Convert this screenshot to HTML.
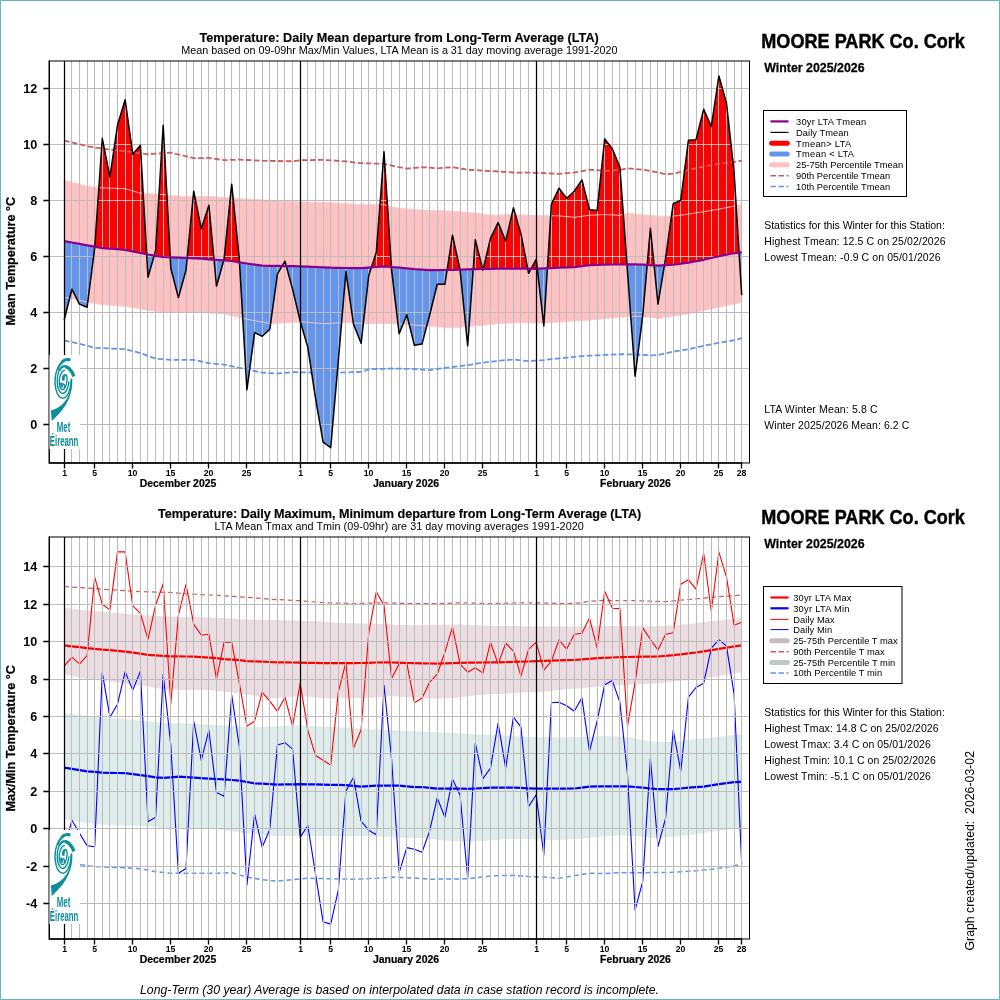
<!DOCTYPE html>
<html lang="en"><head><meta charset="utf-8"><title>MOORE PARK Co. Cork - Winter 2025/2026 Temperature</title>
<style>html,body{margin:0;padding:0;background:#fff}body{width:1000px;height:1000px;overflow:hidden}svg{display:block}text{font-family:"Liberation Sans",Arial,Helvetica,sans-serif;fill:#000}</style>
</head><body>
<svg width="1000" height="1000" viewBox="0 0 1000 1000">
<rect x="0" y="0" width="1000" height="1000" fill="#fff"/>
<defs>
<clipPath id="cA"><polygon points="64.2,0 64.2,241.1 71.9,242.5 79.5,243.9 87.1,245.3 94.7,246.7 102.3,248.1 109.9,248.6 117.5,249.2 125.1,249.8 132.8,251.3 140.4,252.9 148.0,254.5 155.6,255.8 163.2,257.0 170.8,257.4 178.4,257.7 186.0,258.0 193.7,258.4 201.3,258.7 208.9,259.3 216.5,259.8 224.1,260.4 231.7,261.0 239.3,262.4 246.9,263.5 254.6,264.6 262.2,265.7 269.8,265.8 277.4,265.9 285.0,266.1 292.6,266.2 300.2,266.3 307.8,266.6 315.4,267.0 323.1,267.3 330.7,267.7 338.3,267.8 345.9,268.0 353.5,268.1 361.1,268.2 368.7,267.6 376.3,266.9 384.0,266.3 391.6,267.0 399.2,267.7 406.8,268.4 414.4,269.1 422.0,269.6 429.6,270.2 437.2,270.1 444.9,270.0 452.5,269.9 460.1,269.6 467.7,269.4 475.3,269.1 482.9,268.9 490.5,268.8 498.1,268.7 505.7,268.5 513.4,268.6 521.0,268.7 528.6,268.7 536.2,268.8 543.8,268.4 551.4,268.1 559.0,267.7 566.6,267.4 574.3,267.1 581.9,266.1 589.5,265.2 597.1,264.9 604.7,264.6 612.3,264.5 619.9,264.3 627.5,264.3 635.1,264.3 642.8,264.7 650.4,265.2 658.0,265.7 665.6,265.2 673.2,264.6 680.8,263.6 688.4,262.6 696.0,261.2 703.7,259.8 711.3,258.0 718.9,256.2 726.5,254.7 734.1,253.1 741.7,252.3 741.7,0"/></clipPath>
<clipPath id="cB"><polygon points="64.2,500 64.2,241.1 71.9,242.5 79.5,243.9 87.1,245.3 94.7,246.7 102.3,248.1 109.9,248.6 117.5,249.2 125.1,249.8 132.8,251.3 140.4,252.9 148.0,254.5 155.6,255.8 163.2,257.0 170.8,257.4 178.4,257.7 186.0,258.0 193.7,258.4 201.3,258.7 208.9,259.3 216.5,259.8 224.1,260.4 231.7,261.0 239.3,262.4 246.9,263.5 254.6,264.6 262.2,265.7 269.8,265.8 277.4,265.9 285.0,266.1 292.6,266.2 300.2,266.3 307.8,266.6 315.4,267.0 323.1,267.3 330.7,267.7 338.3,267.8 345.9,268.0 353.5,268.1 361.1,268.2 368.7,267.6 376.3,266.9 384.0,266.3 391.6,267.0 399.2,267.7 406.8,268.4 414.4,269.1 422.0,269.6 429.6,270.2 437.2,270.1 444.9,270.0 452.5,269.9 460.1,269.6 467.7,269.4 475.3,269.1 482.9,268.9 490.5,268.8 498.1,268.7 505.7,268.5 513.4,268.6 521.0,268.7 528.6,268.7 536.2,268.8 543.8,268.4 551.4,268.1 559.0,267.7 566.6,267.4 574.3,267.1 581.9,266.1 589.5,265.2 597.1,264.9 604.7,264.6 612.3,264.5 619.9,264.3 627.5,264.3 635.1,264.3 642.8,264.7 650.4,265.2 658.0,265.7 665.6,265.2 673.2,264.6 680.8,263.6 688.4,262.6 696.0,261.2 703.7,259.8 711.3,258.0 718.9,256.2 726.5,254.7 734.1,253.1 741.7,252.3 741.7,500"/></clipPath>
</defs>
<polygon points="64.2,180.3 71.9,182.3 79.5,184.2 87.1,186.2 94.7,187.0 102.3,187.9 109.9,188.2 117.5,188.4 125.1,188.7 132.8,191.0 140.4,193.2 148.0,193.7 155.6,194.1 163.2,194.6 170.8,195.3 178.4,196.1 186.0,196.8 193.7,196.7 201.3,196.5 208.9,196.3 216.5,196.9 224.1,197.6 231.7,198.2 239.3,198.7 246.9,199.1 254.6,199.5 262.2,199.9 269.8,200.3 277.4,200.7 285.0,201.1 292.6,201.5 300.2,201.9 307.8,202.1 315.4,202.3 323.1,202.5 330.7,202.7 338.3,203.2 345.9,203.7 353.5,204.2 361.1,204.7 368.7,204.7 376.3,204.7 384.0,204.7 391.6,206.5 399.2,208.3 406.8,209.0 414.4,209.7 422.0,210.1 429.6,210.6 437.2,210.7 444.9,210.9 452.5,211.1 460.1,211.8 467.7,212.4 475.3,213.1 482.9,214.2 490.5,215.3 498.1,215.0 505.7,214.8 513.4,214.5 521.0,214.9 528.6,215.2 536.2,215.6 543.8,215.7 551.4,215.8 559.0,215.9 566.6,216.6 574.3,217.3 581.9,216.3 589.5,215.3 597.1,214.9 604.7,214.5 612.3,214.9 619.9,215.3 627.5,213.1 635.1,213.9 642.8,214.8 650.4,215.5 658.0,216.2 665.6,216.2 673.2,216.2 680.8,215.2 688.4,214.2 696.0,212.9 703.7,211.7 711.3,210.4 718.9,209.2 726.5,207.6 734.1,206.1 741.7,204.7 741.7,302.1 734.1,304.1 726.5,305.6 718.9,307.2 711.3,308.8 703.7,310.5 696.0,312.2 688.4,313.9 680.8,315.0 673.2,316.1 665.6,317.4 658.0,318.6 650.4,317.2 642.8,316.7 635.1,316.1 627.5,316.7 619.9,317.2 612.3,317.9 604.7,318.6 597.1,319.3 589.5,320.0 581.9,320.5 574.3,321.0 566.6,321.4 559.0,322.0 551.4,322.6 543.8,323.1 536.2,322.9 528.6,322.7 521.0,322.6 513.4,322.9 505.7,323.3 498.1,323.7 490.5,324.4 482.9,325.2 475.3,325.9 467.7,326.6 460.1,327.2 452.5,327.9 444.9,327.3 437.2,326.8 429.6,326.2 422.0,325.6 414.4,325.1 406.8,324.5 399.2,324.0 391.6,323.4 384.0,323.5 376.3,323.6 368.7,323.7 361.1,323.3 353.5,322.9 345.9,322.6 338.3,322.9 330.7,323.3 323.1,323.7 315.4,323.0 307.8,322.4 300.2,321.7 292.6,322.2 285.0,322.7 277.4,323.2 269.8,323.7 262.2,322.2 254.6,320.7 246.9,319.2 239.3,317.4 231.7,315.7 224.1,313.9 216.5,313.4 208.9,312.9 201.3,312.5 193.7,312.5 186.0,312.5 178.4,312.5 170.8,312.5 163.2,312.5 155.6,311.4 148.0,310.2 140.4,308.9 132.8,307.6 125.1,306.3 117.5,305.8 109.9,305.2 102.3,304.6 94.7,303.4 87.1,302.1 79.5,300.4 71.9,298.8 64.2,297.1" fill="#ffc1c1"/>
<polygon points="64.2,319.8 71.9,289.2 79.5,304.1 87.1,307.2 94.7,247.8 102.3,138.3 109.9,177.2 117.5,125.2 125.1,99.7 132.8,154.3 140.4,145.3 148.0,277.2 155.6,250.6 163.2,125.2 170.8,268.2 178.4,297.6 186.0,270.2 193.7,191.2 201.3,228.8 208.9,205.2 216.5,286.2 224.1,259.0 231.7,184.2 239.3,259.0 246.9,389.8 254.6,332.6 262.2,336.3 269.8,329.3 277.4,274.1 285.0,261.2 292.6,289.2 300.2,321.2 307.8,347.2 315.4,397.6 323.1,442.1 330.7,447.7 338.3,361.2 345.9,271.6 353.5,324.2 361.1,343.3 368.7,275.8 376.3,252.3 384.0,151.8 391.6,270.2 399.2,333.8 406.8,314.7 414.4,345.2 422.0,344.1 429.6,315.3 437.2,284.2 444.9,284.2 452.5,235.2 460.1,270.2 467.7,345.8 475.3,239.7 482.9,270.2 490.5,238.3 498.1,222.6 505.7,241.1 513.4,207.8 521.0,234.1 528.6,273.3 536.2,259.3 543.8,325.9 551.4,204.1 559.0,188.2 566.6,198.2 574.3,191.2 581.9,179.8 589.5,209.7 597.1,210.6 604.7,138.9 612.3,148.7 619.9,167.2 627.5,271.6 635.1,376.3 642.8,315.0 650.4,228.2 658.0,304.1 665.6,258.2 673.2,203.6 680.8,200.2 688.4,140.3 696.0,139.7 703.7,109.2 711.3,126.6 718.9,75.9 726.5,103.3 734.1,172.2 741.7,295.1 741.7,252.3 734.1,253.1 726.5,254.7 718.9,256.2 711.3,258.0 703.7,259.8 696.0,261.2 688.4,262.6 680.8,263.6 673.2,264.6 665.6,265.2 658.0,265.7 650.4,265.2 642.8,264.7 635.1,264.3 627.5,264.3 619.9,264.3 612.3,264.5 604.7,264.6 597.1,264.9 589.5,265.2 581.9,266.1 574.3,267.1 566.6,267.4 559.0,267.7 551.4,268.1 543.8,268.4 536.2,268.8 528.6,268.7 521.0,268.7 513.4,268.6 505.7,268.5 498.1,268.7 490.5,268.8 482.9,268.9 475.3,269.1 467.7,269.4 460.1,269.6 452.5,269.9 444.9,270.0 437.2,270.1 429.6,270.2 422.0,269.6 414.4,269.1 406.8,268.4 399.2,267.7 391.6,267.0 384.0,266.3 376.3,266.9 368.7,267.6 361.1,268.2 353.5,268.1 345.9,268.0 338.3,267.8 330.7,267.7 323.1,267.3 315.4,267.0 307.8,266.6 300.2,266.3 292.6,266.2 285.0,266.1 277.4,265.9 269.8,265.8 262.2,265.7 254.6,264.6 246.9,263.5 239.3,262.4 231.7,261.0 224.1,260.4 216.5,259.8 208.9,259.3 201.3,258.7 193.7,258.4 186.0,258.0 178.4,257.7 170.8,257.4 163.2,257.0 155.6,255.8 148.0,254.5 140.4,252.9 132.8,251.3 125.1,249.8 117.5,249.2 109.9,248.6 102.3,248.1 94.7,246.7 87.1,245.3 79.5,243.9 71.9,242.5 64.2,241.1" fill="#ff0000" clip-path="url(#cA)"/>
<polygon points="64.2,319.8 71.9,289.2 79.5,304.1 87.1,307.2 94.7,247.8 102.3,138.3 109.9,177.2 117.5,125.2 125.1,99.7 132.8,154.3 140.4,145.3 148.0,277.2 155.6,250.6 163.2,125.2 170.8,268.2 178.4,297.6 186.0,270.2 193.7,191.2 201.3,228.8 208.9,205.2 216.5,286.2 224.1,259.0 231.7,184.2 239.3,259.0 246.9,389.8 254.6,332.6 262.2,336.3 269.8,329.3 277.4,274.1 285.0,261.2 292.6,289.2 300.2,321.2 307.8,347.2 315.4,397.6 323.1,442.1 330.7,447.7 338.3,361.2 345.9,271.6 353.5,324.2 361.1,343.3 368.7,275.8 376.3,252.3 384.0,151.8 391.6,270.2 399.2,333.8 406.8,314.7 414.4,345.2 422.0,344.1 429.6,315.3 437.2,284.2 444.9,284.2 452.5,235.2 460.1,270.2 467.7,345.8 475.3,239.7 482.9,270.2 490.5,238.3 498.1,222.6 505.7,241.1 513.4,207.8 521.0,234.1 528.6,273.3 536.2,259.3 543.8,325.9 551.4,204.1 559.0,188.2 566.6,198.2 574.3,191.2 581.9,179.8 589.5,209.7 597.1,210.6 604.7,138.9 612.3,148.7 619.9,167.2 627.5,271.6 635.1,376.3 642.8,315.0 650.4,228.2 658.0,304.1 665.6,258.2 673.2,203.6 680.8,200.2 688.4,140.3 696.0,139.7 703.7,109.2 711.3,126.6 718.9,75.9 726.5,103.3 734.1,172.2 741.7,295.1 741.7,252.3 734.1,253.1 726.5,254.7 718.9,256.2 711.3,258.0 703.7,259.8 696.0,261.2 688.4,262.6 680.8,263.6 673.2,264.6 665.6,265.2 658.0,265.7 650.4,265.2 642.8,264.7 635.1,264.3 627.5,264.3 619.9,264.3 612.3,264.5 604.7,264.6 597.1,264.9 589.5,265.2 581.9,266.1 574.3,267.1 566.6,267.4 559.0,267.7 551.4,268.1 543.8,268.4 536.2,268.8 528.6,268.7 521.0,268.7 513.4,268.6 505.7,268.5 498.1,268.7 490.5,268.8 482.9,268.9 475.3,269.1 467.7,269.4 460.1,269.6 452.5,269.9 444.9,270.0 437.2,270.1 429.6,270.2 422.0,269.6 414.4,269.1 406.8,268.4 399.2,267.7 391.6,267.0 384.0,266.3 376.3,266.9 368.7,267.6 361.1,268.2 353.5,268.1 345.9,268.0 338.3,267.8 330.7,267.7 323.1,267.3 315.4,267.0 307.8,266.6 300.2,266.3 292.6,266.2 285.0,266.1 277.4,265.9 269.8,265.8 262.2,265.7 254.6,264.6 246.9,263.5 239.3,262.4 231.7,261.0 224.1,260.4 216.5,259.8 208.9,259.3 201.3,258.7 193.7,258.4 186.0,258.0 178.4,257.7 170.8,257.4 163.2,257.0 155.6,255.8 148.0,254.5 140.4,252.9 132.8,251.3 125.1,249.8 117.5,249.2 109.9,248.6 102.3,248.1 94.7,246.7 87.1,245.3 79.5,243.9 71.9,242.5 64.2,241.1" fill="#6495ed" clip-path="url(#cB)"/>
<polygon points="64.2,180.3 71.9,182.3 79.5,184.2 87.1,186.2 94.7,187.0 102.3,187.9 109.9,188.2 117.5,188.4 125.1,188.7 132.8,191.0 140.4,193.2 148.0,193.7 155.6,194.1 163.2,194.6 170.8,195.3 178.4,196.1 186.0,196.8 193.7,196.7 201.3,196.5 208.9,196.3 216.5,196.9 224.1,197.6 231.7,198.2 239.3,198.7 246.9,199.1 254.6,199.5 262.2,199.9 269.8,200.3 277.4,200.7 285.0,201.1 292.6,201.5 300.2,201.9 307.8,202.1 315.4,202.3 323.1,202.5 330.7,202.7 338.3,203.2 345.9,203.7 353.5,204.2 361.1,204.7 368.7,204.7 376.3,204.7 384.0,204.7 391.6,206.5 399.2,208.3 406.8,209.0 414.4,209.7 422.0,210.1 429.6,210.6 437.2,210.7 444.9,210.9 452.5,211.1 460.1,211.8 467.7,212.4 475.3,213.1 482.9,214.2 490.5,215.3 498.1,215.0 505.7,214.8 513.4,214.5 521.0,214.9 528.6,215.2 536.2,215.6 543.8,215.7 551.4,215.8 559.0,215.9 566.6,216.6 574.3,217.3 581.9,216.3 589.5,215.3 597.1,214.9 604.7,214.5 612.3,214.9 619.9,215.3 627.5,213.1 635.1,213.9 642.8,214.8 650.4,215.5 658.0,216.2 665.6,216.2 673.2,216.2 680.8,215.2 688.4,214.2 696.0,212.9 703.7,211.7 711.3,210.4 718.9,209.2 726.5,207.6 734.1,206.1 741.7,204.7 741.7,302.1 734.1,304.1 726.5,305.6 718.9,307.2 711.3,308.8 703.7,310.5 696.0,312.2 688.4,313.9 680.8,315.0 673.2,316.1 665.6,317.4 658.0,318.6 650.4,317.2 642.8,316.7 635.1,316.1 627.5,316.7 619.9,317.2 612.3,317.9 604.7,318.6 597.1,319.3 589.5,320.0 581.9,320.5 574.3,321.0 566.6,321.4 559.0,322.0 551.4,322.6 543.8,323.1 536.2,322.9 528.6,322.7 521.0,322.6 513.4,322.9 505.7,323.3 498.1,323.7 490.5,324.4 482.9,325.2 475.3,325.9 467.7,326.6 460.1,327.2 452.5,327.9 444.9,327.3 437.2,326.8 429.6,326.2 422.0,325.6 414.4,325.1 406.8,324.5 399.2,324.0 391.6,323.4 384.0,323.5 376.3,323.6 368.7,323.7 361.1,323.3 353.5,322.9 345.9,322.6 338.3,322.9 330.7,323.3 323.1,323.7 315.4,323.0 307.8,322.4 300.2,321.7 292.6,322.2 285.0,322.7 277.4,323.2 269.8,323.7 262.2,322.2 254.6,320.7 246.9,319.2 239.3,317.4 231.7,315.7 224.1,313.9 216.5,313.4 208.9,312.9 201.3,312.5 193.7,312.5 186.0,312.5 178.4,312.5 170.8,312.5 163.2,312.5 155.6,311.4 148.0,310.2 140.4,308.9 132.8,307.6 125.1,306.3 117.5,305.8 109.9,305.2 102.3,304.6 94.7,303.4 87.1,302.1 79.5,300.4 71.9,298.8 64.2,297.1" fill="none" stroke="#ffcaca" stroke-width="0.9"/>
<path d="M71.5 61.0V463.0M79.5 61.0V463.0M87.5 61.0V463.0M94.5 61.0V463.0M102.5 61.0V463.0M109.5 61.0V463.0M117.5 61.0V463.0M125.5 61.0V463.0M132.5 61.0V463.0M140.5 61.0V463.0M147.5 61.0V463.0M155.5 61.0V463.0M163.5 61.0V463.0M170.5 61.0V463.0M178.5 61.0V463.0M186.5 61.0V463.0M193.5 61.0V463.0M201.5 61.0V463.0M208.5 61.0V463.0M216.5 61.0V463.0M224.5 61.0V463.0M231.5 61.0V463.0M239.5 61.0V463.0M246.5 61.0V463.0M254.5 61.0V463.0M262.5 61.0V463.0M269.5 61.0V463.0M277.5 61.0V463.0M284.5 61.0V463.0M292.5 61.0V463.0M307.5 61.0V463.0M315.5 61.0V463.0M323.5 61.0V463.0M330.5 61.0V463.0M338.5 61.0V463.0M345.5 61.0V463.0M353.5 61.0V463.0M361.5 61.0V463.0M368.5 61.0V463.0M376.5 61.0V463.0M383.5 61.0V463.0M391.5 61.0V463.0M399.5 61.0V463.0M406.5 61.0V463.0M414.5 61.0V463.0M422.5 61.0V463.0M429.5 61.0V463.0M437.5 61.0V463.0M444.5 61.0V463.0M452.5 61.0V463.0M460.5 61.0V463.0M467.5 61.0V463.0M475.5 61.0V463.0M482.5 61.0V463.0M490.5 61.0V463.0M498.5 61.0V463.0M505.5 61.0V463.0M513.5 61.0V463.0M520.5 61.0V463.0M528.5 61.0V463.0M543.5 61.0V463.0M551.5 61.0V463.0M559.5 61.0V463.0M566.5 61.0V463.0M574.5 61.0V463.0M581.5 61.0V463.0M589.5 61.0V463.0M597.5 61.0V463.0M604.5 61.0V463.0M612.5 61.0V463.0M619.5 61.0V463.0M627.5 61.0V463.0M635.5 61.0V463.0M642.5 61.0V463.0M650.5 61.0V463.0M657.5 61.0V463.0M665.5 61.0V463.0M673.5 61.0V463.0M680.5 61.0V463.0M688.5 61.0V463.0M696.5 61.0V463.0M703.5 61.0V463.0M711.5 61.0V463.0M718.5 61.0V463.0M726.5 61.0V463.0M734.5 61.0V463.0M741.5 61.0V463.0M49.3 424.5H749.5M49.3 368.5H749.5M49.3 312.5H749.5M49.3 256.5H749.5M49.3 200.5H749.5M49.3 144.5H749.5M49.3 88.5H749.5" stroke="#bcbcbc" stroke-width="1" fill="none" shape-rendering="crispEdges"/>
<polyline points="64.2,140.6 71.9,142.4 79.5,144.3 87.1,146.2 94.7,147.4 102.3,148.7 109.9,149.5 117.5,150.4 125.1,151.2 132.8,152.2 140.4,153.3 148.0,154.3 155.6,153.7 163.2,153.2 170.8,152.6 178.4,154.5 186.0,156.3 193.7,158.2 201.3,158.1 208.9,157.9 216.5,159.0 224.1,160.2 231.7,159.9 239.3,159.6 246.9,160.0 254.6,160.3 262.2,160.7 269.8,160.9 277.4,161.0 285.0,161.1 292.6,161.3 300.2,160.2 307.8,160.1 315.4,160.0 323.1,159.9 330.7,160.3 338.3,160.8 345.9,161.3 353.5,162.3 361.1,163.2 368.7,163.4 376.3,163.6 384.0,163.8 391.6,165.5 399.2,167.2 406.8,168.6 414.4,167.9 422.0,167.2 429.6,167.7 437.2,168.3 444.9,167.7 452.5,167.2 460.1,168.4 467.7,169.7 475.3,170.1 482.9,170.6 490.5,171.1 498.1,171.5 505.7,172.0 513.4,172.5 521.0,172.6 528.6,172.7 536.2,172.8 543.8,173.1 551.4,173.5 559.0,173.9 566.6,173.2 574.3,172.5 581.9,171.1 589.5,169.7 597.1,170.2 604.7,170.8 612.3,170.4 619.9,170.0 627.5,168.3 635.1,169.0 642.8,169.7 650.4,171.1 658.0,172.5 665.6,174.2 673.2,173.6 680.8,171.9 688.4,170.2 696.0,168.3 703.7,166.3 711.3,165.1 718.9,163.8 726.5,162.8 734.1,161.8 741.7,160.7" fill="none" stroke="#cd5c5c" stroke-width="1.8" stroke-dasharray="5.5 2.5"/>
<polyline points="64.2,340.5 71.9,342.2 79.5,343.8 87.1,345.8 94.7,347.8 102.3,348.1 109.9,348.5 117.5,348.8 125.1,349.2 132.8,351.1 140.4,353.1 148.0,355.9 155.6,358.7 163.2,359.2 170.8,359.8 178.4,359.8 186.0,359.8 193.7,359.8 201.3,361.5 208.9,363.2 216.5,363.9 224.1,364.6 231.7,366.2 239.3,367.9 246.9,369.3 254.6,371.0 262.2,372.7 269.8,373.1 277.4,373.5 285.0,372.8 292.6,372.1 300.2,372.3 307.8,372.5 315.4,372.7 323.1,372.7 330.7,372.7 338.3,372.7 345.9,372.4 353.5,372.1 361.1,371.8 368.7,369.3 376.3,369.0 384.0,368.8 391.6,368.5 399.2,368.7 406.8,368.9 414.4,369.0 422.0,369.6 429.6,370.2 437.2,369.0 444.9,367.9 452.5,367.0 460.1,366.1 467.7,365.1 475.3,363.9 482.9,362.6 490.5,361.8 498.1,360.9 505.7,360.1 513.4,359.5 521.0,360.4 528.6,361.2 536.2,360.6 543.8,360.1 551.4,359.2 559.0,358.4 566.6,357.6 574.3,356.9 581.9,356.2 589.5,355.7 597.1,355.3 604.7,354.9 612.3,354.6 619.9,354.2 627.5,354.3 635.1,354.5 642.8,354.9 650.4,355.3 658.0,355.0 665.6,353.4 673.2,351.7 680.8,350.4 688.4,349.2 696.0,347.5 703.7,345.8 711.3,344.3 718.9,342.7 726.5,341.5 734.1,340.2 741.7,338.2" fill="none" stroke="#6495ed" stroke-width="1.8" stroke-dasharray="5.5 2.5"/>
<polyline points="64.2,319.8 71.9,289.2 79.5,304.1 87.1,307.2 94.7,247.8 102.3,138.3 109.9,177.2 117.5,125.2 125.1,99.7 132.8,154.3 140.4,145.3 148.0,277.2 155.6,250.6 163.2,125.2 170.8,268.2 178.4,297.6 186.0,270.2 193.7,191.2 201.3,228.8 208.9,205.2 216.5,286.2 224.1,259.0 231.7,184.2 239.3,259.0 246.9,389.8 254.6,332.6 262.2,336.3 269.8,329.3 277.4,274.1 285.0,261.2 292.6,289.2 300.2,321.2 307.8,347.2 315.4,397.6 323.1,442.1 330.7,447.7 338.3,361.2 345.9,271.6 353.5,324.2 361.1,343.3 368.7,275.8 376.3,252.3 384.0,151.8 391.6,270.2 399.2,333.8 406.8,314.7 414.4,345.2 422.0,344.1 429.6,315.3 437.2,284.2 444.9,284.2 452.5,235.2 460.1,270.2 467.7,345.8 475.3,239.7 482.9,270.2 490.5,238.3 498.1,222.6 505.7,241.1 513.4,207.8 521.0,234.1 528.6,273.3 536.2,259.3 543.8,325.9 551.4,204.1 559.0,188.2 566.6,198.2 574.3,191.2 581.9,179.8 589.5,209.7 597.1,210.6 604.7,138.9 612.3,148.7 619.9,167.2 627.5,271.6 635.1,376.3 642.8,315.0 650.4,228.2 658.0,304.1 665.6,258.2 673.2,203.6 680.8,200.2 688.4,140.3 696.0,139.7 703.7,109.2 711.3,126.6 718.9,75.9 726.5,103.3 734.1,172.2 741.7,295.1" fill="none" stroke="#000" stroke-width="1.5" stroke-linejoin="round"/>
<polyline points="64.2,241.1 71.9,242.5 79.5,243.9 87.1,245.3 94.7,246.7 102.3,248.1 109.9,248.6 117.5,249.2 125.1,249.8 132.8,251.3 140.4,252.9 148.0,254.5 155.6,255.8 163.2,257.0 170.8,257.4 178.4,257.7 186.0,258.0 193.7,258.4 201.3,258.7 208.9,259.3 216.5,259.8 224.1,260.4 231.7,261.0 239.3,262.4 246.9,263.5 254.6,264.6 262.2,265.7 269.8,265.8 277.4,265.9 285.0,266.1 292.6,266.2 300.2,266.3 307.8,266.6 315.4,267.0 323.1,267.3 330.7,267.7 338.3,267.8 345.9,268.0 353.5,268.1 361.1,268.2 368.7,267.6 376.3,266.9 384.0,266.3 391.6,267.0 399.2,267.7 406.8,268.4 414.4,269.1 422.0,269.6 429.6,270.2 437.2,270.1 444.9,270.0 452.5,269.9 460.1,269.6 467.7,269.4 475.3,269.1 482.9,268.9 490.5,268.8 498.1,268.7 505.7,268.5 513.4,268.6 521.0,268.7 528.6,268.7 536.2,268.8 543.8,268.4 551.4,268.1 559.0,267.7 566.6,267.4 574.3,267.1 581.9,266.1 589.5,265.2 597.1,264.9 604.7,264.6 612.3,264.5 619.9,264.3 627.5,264.3 635.1,264.3 642.8,264.7 650.4,265.2 658.0,265.7 665.6,265.2 673.2,264.6 680.8,263.6 688.4,262.6 696.0,261.2 703.7,259.8 711.3,258.0 718.9,256.2 726.5,254.7 734.1,253.1 741.7,252.3" fill="none" stroke="#8b008b" stroke-width="2.2" stroke-linejoin="round"/>
<path d="M64.5 61.0V463.0M300.5 61.0V463.0M536.5 61.0V463.0" stroke="#000" stroke-width="1.25" fill="none"/>
<rect x="49.3" y="61.0" width="700.2" height="402.0" stroke="#000" stroke-width="1" fill="none"/>
<path d="M49.3 60.5V463.0H742.3M43.3 424.5H49.3M43.3 368.5H49.3M43.3 312.5H49.3M43.3 256.5H49.3M43.3 200.5H49.3M43.3 144.5H49.3M43.3 88.5H49.3M64.5 463.0v5.6M94.5 463.0v5.6M132.5 463.0v5.6M170.5 463.0v5.6M208.5 463.0v5.6M246.5 463.0v5.6M300.5 463.0v5.6M330.5 463.0v5.6M368.5 463.0v5.6M406.5 463.0v5.6M444.5 463.0v5.6M482.5 463.0v5.6M536.5 463.0v5.6M566.5 463.0v5.6M604.5 463.0v5.6M642.5 463.0v5.6M680.5 463.0v5.6M718.5 463.0v5.6M741.5 463.0v5.6" stroke="#000" stroke-width="1.33" fill="none"/>
<text transform="translate(37.2,429.0)" text-anchor="end" font-size="12.6" font-weight="bold">0</text>
<text transform="translate(37.2,373.0)" text-anchor="end" font-size="12.6" font-weight="bold">2</text>
<text transform="translate(37.2,317.0)" text-anchor="end" font-size="12.6" font-weight="bold">4</text>
<text transform="translate(37.2,261.0)" text-anchor="end" font-size="12.6" font-weight="bold">6</text>
<text transform="translate(37.2,205.0)" text-anchor="end" font-size="12.6" font-weight="bold">8</text>
<text transform="translate(37.2,149.0)" text-anchor="end" font-size="12.6" font-weight="bold">10</text>
<text transform="translate(37.2,93.0)" text-anchor="end" font-size="12.6" font-weight="bold">12</text>
<text transform="translate(64.6,475.95)" text-anchor="middle" font-size="8.7" font-weight="bold">1</text>
<text transform="translate(94.6,475.95)" text-anchor="middle" font-size="8.7" font-weight="bold">5</text>
<text transform="translate(132.6,475.95)" text-anchor="middle" font-size="8.7" font-weight="bold">10</text>
<text transform="translate(170.6,475.95)" text-anchor="middle" font-size="8.7" font-weight="bold">15</text>
<text transform="translate(208.6,475.95)" text-anchor="middle" font-size="8.7" font-weight="bold">20</text>
<text transform="translate(246.6,475.95)" text-anchor="middle" font-size="8.7" font-weight="bold">25</text>
<text transform="translate(300.6,475.95)" text-anchor="middle" font-size="8.7" font-weight="bold">1</text>
<text transform="translate(330.6,475.95)" text-anchor="middle" font-size="8.7" font-weight="bold">5</text>
<text transform="translate(368.6,475.95)" text-anchor="middle" font-size="8.7" font-weight="bold">10</text>
<text transform="translate(406.6,475.95)" text-anchor="middle" font-size="8.7" font-weight="bold">15</text>
<text transform="translate(444.6,475.95)" text-anchor="middle" font-size="8.7" font-weight="bold">20</text>
<text transform="translate(482.6,475.95)" text-anchor="middle" font-size="8.7" font-weight="bold">25</text>
<text transform="translate(536.6,475.95)" text-anchor="middle" font-size="8.7" font-weight="bold">1</text>
<text transform="translate(566.6,475.95)" text-anchor="middle" font-size="8.7" font-weight="bold">5</text>
<text transform="translate(604.6,475.95)" text-anchor="middle" font-size="8.7" font-weight="bold">10</text>
<text transform="translate(642.6,475.95)" text-anchor="middle" font-size="8.7" font-weight="bold">15</text>
<text transform="translate(680.6,475.95)" text-anchor="middle" font-size="8.7" font-weight="bold">20</text>
<text transform="translate(718.6,475.95)" text-anchor="middle" font-size="8.7" font-weight="bold">25</text>
<text transform="translate(741.6,475.95)" text-anchor="middle" font-size="8.7" font-weight="bold">28</text>
<text transform="translate(178,487.2) scale(1,1.04)" text-anchor="middle" font-size="10.45" font-weight="bold" stroke="#000" stroke-width="0.2">December 2025</text>
<text transform="translate(406,487.2) scale(1,1.04)" text-anchor="middle" font-size="10.45" font-weight="bold" stroke="#000" stroke-width="0.2">January 2026</text>
<text transform="translate(635.5,487.2) scale(1,1.04)" text-anchor="middle" font-size="10.45" font-weight="bold" stroke="#000" stroke-width="0.2">February 2026</text>
<text transform="translate(15.2,261.2) rotate(-90) scale(1,1.08)" text-anchor="middle" font-size="12.6" font-weight="bold" stroke="#000" stroke-width="0.25">Mean Temperature °C</text>
<g transform="translate(49.8,355)">
<rect x="-0.4" y="0" width="30.6" height="94" fill="#fff"/>
<g fill="none" stroke="#0a8f9a" stroke-linecap="butt" stroke-linejoin="round">
<path d="M19.5 4.6C13.5 3.2 8.2 9.5 5.9 19.5C3.8 29.5 6.6 42.2 12.6 43.2C17.6 43.8 21 34 21.6 25" stroke-width="1.35"/>
<path d="M20.6 5C17.6 3.8 14.4 4.6 11.8 7.2" stroke-width="3"/>
<path d="M13 6.4C10.6 8.4 8.8 11.4 7.6 14.8" stroke-width="2"/>
<path d="M23.6 20.4C21.2 14 17.2 10.6 13.6 11.2C9.6 12 7.6 19 7.4 25.6C7.2 32.6 9.6 38.2 12.8 38.4C16 38.4 18.6 33 19.2 26.4" stroke-width="1.35"/>
<path d="M24 21.4C22.2 16 19 12.4 15.4 11.4" stroke-width="3.4"/>
<path d="M16.4 11.4C13.4 10.8 11 12.6 9.6 15.8" stroke-width="2"/>
<path d="M15.2 15.4C12 15.2 9.8 20 9.5 25.5C9.2 30.8 10.6 34.6 12.6 34.6C14.8 34.6 16.8 30.6 17.2 25.2C17.4 22 16.8 20 15.8 19.4" stroke-width="1.35"/>
<path d="M15.8 20.6C13.8 19.8 13.2 22.6 13.5 25.6" stroke-width="2.7"/>
<path d="M11.5 27.6C11.2 30.4 12 31.8 13.2 31.6" stroke-width="2.3"/>
<path d="M12.4 29.4C14 28.6 15 29.6 14.8 33" stroke-width="1.6"/>
</g>
<path d="M22.5 23.5C23.2 38 18.5 51.5 2 66L1.1 55.6C9.5 53.6 16.6 47 19.4 38.6C20.4 34 20.8 28 20.8 23.5Z" fill="#0a8f9a"/>
<text transform="translate(7,77) scale(0.57,1)" font-size="13.8" font-weight="bold" style="fill:#0a8f9a">Met</text>
<text transform="translate(0,90.8) scale(0.565,1)" font-size="13.8" font-weight="bold" style="fill:#0a8f9a">Éireann</text>
</g>
<polygon points="64.2,607.9 71.9,608.7 79.5,609.5 87.1,610.3 94.7,610.9 102.3,611.5 109.9,612.2 117.5,612.9 125.1,613.7 132.8,614.4 140.4,615.1 148.0,615.5 155.6,615.9 163.2,616.3 170.8,616.6 178.4,616.8 186.0,616.9 193.7,617.1 201.3,617.2 208.9,617.5 216.5,617.7 224.1,618.0 231.7,618.6 239.3,619.3 246.9,619.4 254.6,619.6 262.2,619.8 269.8,619.9 277.4,620.1 285.0,620.2 292.6,620.4 300.2,620.7 307.8,620.9 315.4,621.1 323.1,621.6 330.7,622.2 338.3,622.7 345.9,623.2 353.5,623.3 361.1,623.4 368.7,623.6 376.3,623.8 384.0,624.1 391.6,624.4 399.2,624.7 406.8,625.0 414.4,625.2 422.0,625.1 429.6,624.9 437.2,624.7 444.9,624.6 452.5,624.6 460.1,624.5 467.7,624.8 475.3,625.2 482.9,625.5 490.5,625.8 498.1,625.9 505.7,626.0 513.4,626.1 521.0,626.2 528.6,626.2 536.2,626.2 543.8,626.2 551.4,626.2 559.0,626.2 566.6,626.3 574.3,626.4 581.9,626.3 589.5,626.2 597.1,626.1 604.7,626.1 612.3,626.0 619.9,626.1 627.5,626.1 635.1,626.2 642.8,626.2 650.4,626.2 658.0,626.2 665.6,625.7 673.2,625.2 680.8,624.6 688.4,623.9 696.0,623.2 703.7,622.2 711.3,621.1 718.9,620.4 726.5,619.6 734.1,618.9 741.7,618.1 741.7,672.2 734.1,673.4 726.5,674.6 718.9,675.9 711.3,677.2 703.7,678.2 696.0,679.1 688.4,680.0 680.8,680.8 673.2,681.7 665.6,682.5 658.0,683.2 650.4,683.7 642.8,684.1 635.1,684.5 627.5,684.9 619.9,685.3 612.3,685.7 604.7,686.1 597.1,686.6 589.5,687.4 581.9,688.3 574.3,688.7 566.6,689.2 559.0,690.1 551.4,690.9 543.8,691.8 536.2,692.1 528.6,692.3 521.0,692.6 513.4,693.0 505.7,693.4 498.1,693.9 490.5,694.3 482.9,694.7 475.3,695.2 467.7,696.2 460.1,697.2 452.5,698.2 444.9,698.3 437.2,698.4 429.6,698.5 422.0,698.2 414.4,697.8 406.8,697.2 399.2,696.7 391.6,696.1 384.0,696.7 376.3,697.4 368.7,698.0 361.1,698.0 353.5,698.1 345.9,698.2 338.3,698.2 330.7,698.2 323.1,698.2 315.4,697.4 307.8,696.6 300.2,695.7 292.6,696.8 285.0,697.8 277.4,698.0 269.8,698.2 262.2,697.0 254.6,695.8 246.9,694.6 239.3,693.6 231.7,692.6 224.1,691.6 216.5,690.9 208.9,690.1 201.3,690.1 193.7,690.1 186.0,690.1 178.4,689.8 170.8,689.5 163.2,689.2 155.6,687.9 148.0,686.6 140.4,685.3 132.8,684.4 125.1,683.5 117.5,682.6 109.9,681.7 102.3,680.8 94.7,680.0 87.1,679.1 79.5,677.6 71.9,676.1 64.2,674.6" fill="#ecdde2"/>
<polygon points="64.2,712.8 71.9,713.9 79.5,715.1 87.1,716.3 94.7,716.9 102.3,717.5 109.9,718.1 117.5,718.7 125.1,719.3 132.8,720.0 140.4,720.7 148.0,721.3 155.6,722.0 163.2,722.7 170.8,723.0 178.4,723.3 186.0,723.6 193.7,723.9 201.3,724.2 208.9,724.5 216.5,724.9 224.1,725.3 231.7,725.9 239.3,726.5 246.9,727.2 254.6,726.9 262.2,726.7 269.8,726.5 277.4,726.2 285.0,725.9 292.6,725.6 300.2,725.3 307.8,725.7 315.4,726.2 323.1,726.6 330.7,727.0 338.3,727.3 345.9,727.7 353.5,728.2 361.1,728.7 368.7,729.2 376.3,729.5 384.0,729.8 391.6,730.2 399.2,730.6 406.8,731.0 414.4,731.5 422.0,731.6 429.6,731.8 437.2,732.3 444.9,732.7 452.5,733.1 460.1,733.5 467.7,733.9 475.3,734.3 482.9,734.6 490.5,734.9 498.1,735.2 505.7,735.6 513.4,736.1 521.0,736.5 528.6,736.8 536.2,737.0 543.8,737.3 551.4,737.3 559.0,737.3 566.6,737.3 574.3,737.2 581.9,737.1 589.5,737.1 597.1,736.6 604.7,736.1 612.3,736.3 619.9,736.5 627.5,736.7 635.1,738.5 642.8,740.2 650.4,741.2 658.0,742.1 665.6,742.0 673.2,741.9 680.8,740.9 688.4,739.9 696.0,739.0 703.7,738.2 711.3,737.4 718.9,736.7 726.5,735.8 734.1,734.8 741.7,734.3 741.7,828.1 734.1,829.0 726.5,829.8 718.9,830.9 711.3,831.9 703.7,833.0 696.0,834.1 688.4,835.2 680.8,836.2 673.2,836.7 665.6,837.3 658.0,837.6 650.4,837.9 642.8,837.0 635.1,836.2 627.5,835.7 619.9,835.2 612.3,835.9 604.7,836.5 597.1,837.1 589.5,837.9 581.9,838.6 574.3,839.1 566.6,839.6 559.0,840.1 551.4,839.9 543.8,839.7 536.2,839.5 528.6,839.2 521.0,838.8 513.4,839.0 505.7,839.2 498.1,839.7 490.5,840.3 482.9,840.9 475.3,841.1 467.7,841.4 460.1,841.6 452.5,841.0 444.9,840.4 437.2,839.7 429.6,838.7 422.0,837.7 414.4,838.1 406.8,837.7 399.2,837.4 391.6,837.1 384.0,836.8 376.3,836.5 368.7,836.2 361.1,836.2 353.5,836.3 345.9,836.4 338.3,836.2 330.7,836.1 323.1,836.0 315.4,836.1 307.8,836.1 300.2,836.2 292.6,836.1 285.0,836.0 277.4,835.9 269.8,835.8 262.2,834.9 254.6,834.1 246.9,833.2 239.3,832.2 231.7,831.2 224.1,830.2 216.5,829.3 208.9,829.1 201.3,828.9 193.7,828.7 186.0,828.6 178.4,828.4 170.8,828.3 163.2,828.1 155.6,827.3 148.0,826.4 140.4,825.5 132.8,825.4 125.1,825.3 117.5,825.2 109.9,825.1 102.3,824.5 94.7,823.9 87.1,823.3 79.5,821.9 71.9,820.5 64.2,819.2" fill="#deeceb"/>
<polyline points="64.2,586.5 71.9,587.1 79.5,587.6 87.1,588.1 94.7,588.6 102.3,589.2 109.9,589.6 117.5,590.1 125.1,590.6 132.8,591.1 140.4,591.6 148.0,591.8 155.6,592.1 163.2,592.3 170.8,592.5 178.4,593.1 186.0,593.6 193.7,594.2 201.3,594.6 208.9,595.0 216.5,595.3 224.1,595.8 231.7,596.3 239.3,596.8 246.9,597.2 254.6,597.9 262.2,598.6 269.8,599.3 277.4,599.6 285.0,600.0 292.6,600.4 300.2,600.7 307.8,601.4 315.4,602.0 323.1,602.6 330.7,602.9 338.3,603.1 345.9,603.3 353.5,603.6 361.1,603.4 368.7,603.2 376.3,603.0 384.0,602.8 391.6,603.0 399.2,603.3 406.8,603.5 414.4,603.7 422.0,603.7 429.6,603.7 437.2,603.7 444.9,603.4 452.5,603.1 460.1,602.8 467.7,603.0 475.3,603.2 482.9,603.4 490.5,603.6 498.1,603.4 505.7,603.2 513.4,603.0 521.0,602.8 528.6,602.8 536.2,602.8 543.8,603.0 551.4,603.2 559.0,603.4 566.6,603.6 574.3,603.2 581.9,602.8 589.5,601.1 597.1,600.8 604.7,600.6 612.3,600.6 619.9,600.6 627.5,600.6 635.1,600.7 642.8,600.9 650.4,601.1 658.0,601.4 665.6,601.7 673.2,600.9 680.8,600.2 688.4,599.5 696.0,598.8 703.7,598.1 711.3,597.4 718.9,596.6 726.5,596.2 734.1,595.7 741.7,594.8" fill="none" stroke="#cd5c5c" stroke-width="1.25" stroke-dasharray="4.8 3.2"/>
<polyline points="64.2,862.4 71.9,863.5 79.5,864.6 87.1,865.6 94.7,866.7 102.3,866.9 109.9,867.2 117.5,867.5 125.1,867.8 132.8,868.3 140.4,868.7 148.0,870.2 155.6,871.7 163.2,872.5 170.8,873.2 178.4,873.2 186.0,873.2 193.7,873.2 201.3,873.2 208.9,873.2 216.5,873.2 224.1,872.9 231.7,872.6 239.3,874.9 246.9,877.1 254.6,878.4 262.2,879.8 269.8,880.5 277.4,881.2 285.0,880.4 292.6,879.6 300.2,878.9 307.8,878.3 315.4,878.4 323.1,878.6 330.7,878.8 338.3,878.9 345.9,879.1 353.5,879.2 361.1,878.9 368.7,878.6 376.3,878.3 384.0,877.7 391.6,877.1 399.2,877.4 406.8,877.8 414.4,878.1 422.0,878.6 429.6,879.2 437.2,879.1 444.9,879.1 452.5,879.0 460.1,878.9 467.7,878.8 475.3,877.8 482.9,876.8 490.5,876.2 498.1,875.6 505.7,875.5 513.4,875.3 521.0,875.9 528.6,876.6 536.2,876.9 543.8,877.1 551.4,877.7 559.0,878.3 566.6,877.0 574.3,875.8 581.9,874.5 589.5,873.2 597.1,873.4 604.7,873.6 612.3,873.1 619.9,872.6 627.5,872.7 635.1,872.8 642.8,872.7 650.4,872.6 658.0,872.6 665.6,872.6 673.2,872.2 680.8,871.7 688.4,871.2 696.0,870.8 703.7,870.0 711.3,869.3 718.9,868.3 726.5,867.2 734.1,865.7 741.7,864.2" fill="none" stroke="#6495ed" stroke-width="1.5" stroke-dasharray="5 3"/>
<polyline points="64.2,666.2 71.9,657.2 79.5,663.8 87.1,655.7 94.7,577.2 102.3,604.3 109.9,609.9 117.5,551.9 125.1,551.9 132.8,605.8 140.4,613.3 148.0,639.3 155.6,605.2 163.2,583.7 170.8,703.8 178.4,615.1 186.0,584.3 193.7,624.1 201.3,635.2 208.9,634.2 216.5,679.1 224.1,642.3 231.7,642.3 239.3,682.8 246.9,726.2 254.6,721.2 262.2,692.2 269.8,701.2 277.4,711.3 285.0,697.2 292.6,726.2 300.2,683.2 307.8,730.2 315.4,755.2 323.1,760.3 330.7,765.1 338.3,692.2 345.9,662.3 353.5,748.3 361.1,729.8 368.7,633.3 376.3,591.8 384.0,605.2 391.6,678.5 399.2,663.8 406.8,663.2 414.4,702.7 422.0,698.2 429.6,682.3 437.2,674.2 444.9,652.2 452.5,627.1 460.1,664.1 467.7,672.2 475.3,667.7 482.9,673.1 490.5,642.3 498.1,664.1 505.7,643.2 513.4,651.2 521.0,676.1 528.6,649.2 536.2,642.3 543.8,670.1 551.4,661.1 559.0,639.8 566.6,649.2 574.3,634.2 581.9,633.3 589.5,618.1 597.1,647.9 604.7,591.2 612.3,608.2 619.9,608.6 627.5,726.2 635.1,682.3 642.8,627.9 650.4,639.3 658.0,650.1 665.6,634.2 673.2,632.7 680.8,584.3 688.4,579.8 696.0,589.2 703.7,553.2 711.3,611.2 718.9,552.1 726.5,577.2 734.1,625.2 741.7,622.3" fill="none" stroke="#ff0000" stroke-width="1.1" stroke-linejoin="round"/>
<polyline points="64.2,847.4 71.9,820.3 79.5,833.2 87.1,845.7 94.7,846.7 102.3,672.6 109.9,717.2 117.5,704.2 125.1,671.8 132.8,690.1 140.4,671.2 148.0,821.8 155.6,817.3 163.2,674.2 170.8,745.1 178.4,873.2 186.0,868.5 193.7,721.2 201.3,760.3 208.9,730.2 216.5,792.6 224.1,796.3 231.7,695.2 239.3,746.4 246.9,885.2 254.6,814.1 262.2,847.2 269.8,829.3 277.4,745.1 285.0,742.7 292.6,749.2 300.2,837.1 307.8,825.7 315.4,873.2 323.1,921.8 330.7,924.1 338.3,890.2 345.9,791.3 353.5,777.3 361.1,821.2 368.7,830.2 376.3,834.7 384.0,685.3 391.6,759.1 399.2,872.3 406.8,847.6 414.4,849.3 422.0,852.3 429.6,831.1 437.2,797.8 444.9,817.3 452.5,779.1 460.1,795.2 467.7,878.3 475.3,743.2 482.9,778.6 490.5,768.1 498.1,723.2 505.7,768.1 513.4,717.2 521.0,727.2 528.6,806.6 536.2,794.7 543.8,855.3 551.4,702.7 559.0,702.3 566.6,705.8 574.3,711.3 581.9,697.8 589.5,751.3 597.1,721.2 604.7,684.7 612.3,680.6 619.9,702.3 627.5,774.5 635.1,910.2 642.8,881.2 650.4,758.2 658.0,846.5 665.6,818.2 673.2,730.2 680.8,771.3 688.4,697.2 696.0,687.5 703.7,683.2 711.3,648.2 718.9,639.6 726.5,646.2 734.1,694.2 741.7,864.0" fill="none" stroke="#0000ff" stroke-width="1.1" stroke-linejoin="round"/>
<polyline points="64.2,645.3 71.9,646.3 79.5,647.2 87.1,648.2 94.7,648.9 102.3,649.6 109.9,650.2 117.5,650.9 125.1,651.6 132.8,652.7 140.4,653.7 148.0,654.8 155.6,655.3 163.2,655.8 170.8,656.3 178.4,656.4 186.0,656.5 193.7,656.7 201.3,657.2 208.9,657.7 216.5,658.2 224.1,659.1 231.7,659.7 239.3,660.2 246.9,661.1 254.6,661.4 262.2,661.7 269.8,662.0 277.4,662.3 285.0,662.4 292.6,662.5 300.2,662.6 307.8,662.8 315.4,662.9 323.1,663.1 330.7,663.2 338.3,663.2 345.9,663.1 353.5,663.1 361.1,663.0 368.7,662.8 376.3,662.5 384.0,662.3 391.6,662.5 399.2,662.7 406.8,663.0 414.4,663.2 422.0,663.3 429.6,663.5 437.2,663.6 444.9,663.3 452.5,663.1 460.1,662.9 467.7,662.6 475.3,662.6 482.9,662.5 490.5,662.4 498.1,662.3 505.7,662.1 513.4,661.9 521.0,661.7 528.6,661.5 536.2,661.2 543.8,660.9 551.4,660.6 559.0,660.4 566.6,660.2 574.3,660.0 581.9,659.4 589.5,658.8 597.1,658.2 604.7,657.8 612.3,657.5 619.9,657.2 627.5,657.0 635.1,656.8 642.8,656.7 650.4,656.6 658.0,656.5 665.6,655.8 673.2,655.2 680.8,654.3 688.4,653.4 696.0,652.5 703.7,651.3 711.3,650.1 718.9,648.9 726.5,647.7 734.1,646.5 741.7,645.3" fill="none" stroke="#ff0000" stroke-width="2.2" stroke-linejoin="round"/>
<polyline points="64.2,767.7 71.9,768.9 79.5,770.1 87.1,771.3 94.7,771.9 102.3,772.6 109.9,772.8 117.5,773.0 125.1,773.2 132.8,774.2 140.4,775.2 148.0,776.2 155.6,777.3 163.2,777.8 170.8,777.3 178.4,776.7 186.0,777.2 193.7,777.7 201.3,778.2 208.9,778.6 216.5,779.0 224.1,779.3 231.7,780.0 239.3,780.6 246.9,782.0 254.6,783.3 262.2,783.7 269.8,784.1 277.4,784.6 285.0,784.4 292.6,784.3 300.2,784.2 307.8,784.3 315.4,784.4 323.1,784.6 330.7,784.8 338.3,784.9 345.9,785.1 353.5,785.9 361.1,786.6 368.7,786.2 376.3,785.7 384.0,785.7 391.6,785.7 399.2,785.7 406.8,786.4 414.4,787.2 422.0,787.0 429.6,787.8 437.2,788.7 444.9,788.6 452.5,788.6 460.1,788.5 467.7,788.9 475.3,788.5 482.9,788.1 490.5,787.7 498.1,787.7 505.7,787.6 513.4,787.6 521.0,787.9 528.6,788.3 536.2,788.7 543.8,788.7 551.4,788.7 559.0,788.7 566.6,788.6 574.3,788.5 581.9,787.6 589.5,786.6 597.1,786.3 604.7,786.3 612.3,786.4 619.9,786.3 627.5,786.3 635.1,787.0 642.8,787.7 650.4,788.5 658.0,789.2 665.6,789.2 673.2,789.2 680.8,788.5 688.4,787.7 696.0,787.2 703.7,786.6 711.3,785.4 718.9,784.2 726.5,783.2 734.1,782.1 741.7,781.8" fill="none" stroke="#0000ff" stroke-width="2.2" stroke-linejoin="round"/>
<path d="M71.5 537.0V939.0M79.5 537.0V939.0M87.5 537.0V939.0M94.5 537.0V939.0M102.5 537.0V939.0M109.5 537.0V939.0M117.5 537.0V939.0M125.5 537.0V939.0M132.5 537.0V939.0M140.5 537.0V939.0M147.5 537.0V939.0M155.5 537.0V939.0M163.5 537.0V939.0M170.5 537.0V939.0M178.5 537.0V939.0M186.5 537.0V939.0M193.5 537.0V939.0M201.5 537.0V939.0M208.5 537.0V939.0M216.5 537.0V939.0M224.5 537.0V939.0M231.5 537.0V939.0M239.5 537.0V939.0M246.5 537.0V939.0M254.5 537.0V939.0M262.5 537.0V939.0M269.5 537.0V939.0M277.5 537.0V939.0M284.5 537.0V939.0M292.5 537.0V939.0M307.5 537.0V939.0M315.5 537.0V939.0M323.5 537.0V939.0M330.5 537.0V939.0M338.5 537.0V939.0M345.5 537.0V939.0M353.5 537.0V939.0M361.5 537.0V939.0M368.5 537.0V939.0M376.5 537.0V939.0M383.5 537.0V939.0M391.5 537.0V939.0M399.5 537.0V939.0M406.5 537.0V939.0M414.5 537.0V939.0M422.5 537.0V939.0M429.5 537.0V939.0M437.5 537.0V939.0M444.5 537.0V939.0M452.5 537.0V939.0M460.5 537.0V939.0M467.5 537.0V939.0M475.5 537.0V939.0M482.5 537.0V939.0M490.5 537.0V939.0M498.5 537.0V939.0M505.5 537.0V939.0M513.5 537.0V939.0M520.5 537.0V939.0M528.5 537.0V939.0M543.5 537.0V939.0M551.5 537.0V939.0M559.5 537.0V939.0M566.5 537.0V939.0M574.5 537.0V939.0M581.5 537.0V939.0M589.5 537.0V939.0M597.5 537.0V939.0M604.5 537.0V939.0M612.5 537.0V939.0M619.5 537.0V939.0M627.5 537.0V939.0M635.5 537.0V939.0M642.5 537.0V939.0M650.5 537.0V939.0M657.5 537.0V939.0M665.5 537.0V939.0M673.5 537.0V939.0M680.5 537.0V939.0M688.5 537.0V939.0M696.5 537.0V939.0M703.5 537.0V939.0M711.5 537.0V939.0M718.5 537.0V939.0M726.5 537.0V939.0M734.5 537.0V939.0M741.5 537.0V939.0M49.3 903.5H749.5M49.3 866.5H749.5M49.3 828.5H749.5M49.3 791.5H749.5M49.3 753.5H749.5M49.3 716.5H749.5M49.3 679.5H749.5M49.3 641.5H749.5M49.3 604.5H749.5M49.3 566.5H749.5" stroke="#bcbcbc" stroke-width="1" fill="none" shape-rendering="crispEdges"/>
<path d="M64.5 537.0V939.0M300.5 537.0V939.0M536.5 537.0V939.0" stroke="#000" stroke-width="1.25" fill="none"/>
<rect x="49.3" y="537.0" width="700.2" height="402.0" stroke="#000" stroke-width="1" fill="none"/>
<path d="M49.3 536.5V939.0H742.3M43.3 903.5H49.3M43.3 866.5H49.3M43.3 828.5H49.3M43.3 791.5H49.3M43.3 753.5H49.3M43.3 716.5H49.3M43.3 679.5H49.3M43.3 641.5H49.3M43.3 604.5H49.3M43.3 566.5H49.3M64.5 939.0v5.6M94.5 939.0v5.6M132.5 939.0v5.6M170.5 939.0v5.6M208.5 939.0v5.6M246.5 939.0v5.6M300.5 939.0v5.6M330.5 939.0v5.6M368.5 939.0v5.6M406.5 939.0v5.6M444.5 939.0v5.6M482.5 939.0v5.6M536.5 939.0v5.6M566.5 939.0v5.6M604.5 939.0v5.6M642.5 939.0v5.6M680.5 939.0v5.6M718.5 939.0v5.6M741.5 939.0v5.6" stroke="#000" stroke-width="1.33" fill="none"/>
<text transform="translate(37.2,908.0)" text-anchor="end" font-size="12.6" font-weight="bold">-4</text>
<text transform="translate(37.2,871.0)" text-anchor="end" font-size="12.6" font-weight="bold">-2</text>
<text transform="translate(37.2,833.0)" text-anchor="end" font-size="12.6" font-weight="bold">0</text>
<text transform="translate(37.2,796.0)" text-anchor="end" font-size="12.6" font-weight="bold">2</text>
<text transform="translate(37.2,758.0)" text-anchor="end" font-size="12.6" font-weight="bold">4</text>
<text transform="translate(37.2,721.0)" text-anchor="end" font-size="12.6" font-weight="bold">6</text>
<text transform="translate(37.2,684.0)" text-anchor="end" font-size="12.6" font-weight="bold">8</text>
<text transform="translate(37.2,646.0)" text-anchor="end" font-size="12.6" font-weight="bold">10</text>
<text transform="translate(37.2,609.0)" text-anchor="end" font-size="12.6" font-weight="bold">12</text>
<text transform="translate(37.2,571.0)" text-anchor="end" font-size="12.6" font-weight="bold">14</text>
<text transform="translate(64.6,951.95)" text-anchor="middle" font-size="8.7" font-weight="bold">1</text>
<text transform="translate(94.6,951.95)" text-anchor="middle" font-size="8.7" font-weight="bold">5</text>
<text transform="translate(132.6,951.95)" text-anchor="middle" font-size="8.7" font-weight="bold">10</text>
<text transform="translate(170.6,951.95)" text-anchor="middle" font-size="8.7" font-weight="bold">15</text>
<text transform="translate(208.6,951.95)" text-anchor="middle" font-size="8.7" font-weight="bold">20</text>
<text transform="translate(246.6,951.95)" text-anchor="middle" font-size="8.7" font-weight="bold">25</text>
<text transform="translate(300.6,951.95)" text-anchor="middle" font-size="8.7" font-weight="bold">1</text>
<text transform="translate(330.6,951.95)" text-anchor="middle" font-size="8.7" font-weight="bold">5</text>
<text transform="translate(368.6,951.95)" text-anchor="middle" font-size="8.7" font-weight="bold">10</text>
<text transform="translate(406.6,951.95)" text-anchor="middle" font-size="8.7" font-weight="bold">15</text>
<text transform="translate(444.6,951.95)" text-anchor="middle" font-size="8.7" font-weight="bold">20</text>
<text transform="translate(482.6,951.95)" text-anchor="middle" font-size="8.7" font-weight="bold">25</text>
<text transform="translate(536.6,951.95)" text-anchor="middle" font-size="8.7" font-weight="bold">1</text>
<text transform="translate(566.6,951.95)" text-anchor="middle" font-size="8.7" font-weight="bold">5</text>
<text transform="translate(604.6,951.95)" text-anchor="middle" font-size="8.7" font-weight="bold">10</text>
<text transform="translate(642.6,951.95)" text-anchor="middle" font-size="8.7" font-weight="bold">15</text>
<text transform="translate(680.6,951.95)" text-anchor="middle" font-size="8.7" font-weight="bold">20</text>
<text transform="translate(718.6,951.95)" text-anchor="middle" font-size="8.7" font-weight="bold">25</text>
<text transform="translate(741.6,951.95)" text-anchor="middle" font-size="8.7" font-weight="bold">28</text>
<text transform="translate(178,963.2) scale(1,1.04)" text-anchor="middle" font-size="10.45" font-weight="bold" stroke="#000" stroke-width="0.2">December 2025</text>
<text transform="translate(406,963.2) scale(1,1.04)" text-anchor="middle" font-size="10.45" font-weight="bold" stroke="#000" stroke-width="0.2">January 2026</text>
<text transform="translate(635.5,963.2) scale(1,1.04)" text-anchor="middle" font-size="10.45" font-weight="bold" stroke="#000" stroke-width="0.2">February 2026</text>
<text transform="translate(15.2,738.3) rotate(-90) scale(1,1.08)" text-anchor="middle" font-size="12.6" font-weight="bold" stroke="#000" stroke-width="0.25">Max/Min Temperature °C</text>
<g transform="translate(49.8,830)">
<rect x="-0.4" y="0" width="30.6" height="94" fill="#fff"/>
<g fill="none" stroke="#0a8f9a" stroke-linecap="butt" stroke-linejoin="round">
<path d="M19.5 4.6C13.5 3.2 8.2 9.5 5.9 19.5C3.8 29.5 6.6 42.2 12.6 43.2C17.6 43.8 21 34 21.6 25" stroke-width="1.35"/>
<path d="M20.6 5C17.6 3.8 14.4 4.6 11.8 7.2" stroke-width="3"/>
<path d="M13 6.4C10.6 8.4 8.8 11.4 7.6 14.8" stroke-width="2"/>
<path d="M23.6 20.4C21.2 14 17.2 10.6 13.6 11.2C9.6 12 7.6 19 7.4 25.6C7.2 32.6 9.6 38.2 12.8 38.4C16 38.4 18.6 33 19.2 26.4" stroke-width="1.35"/>
<path d="M24 21.4C22.2 16 19 12.4 15.4 11.4" stroke-width="3.4"/>
<path d="M16.4 11.4C13.4 10.8 11 12.6 9.6 15.8" stroke-width="2"/>
<path d="M15.2 15.4C12 15.2 9.8 20 9.5 25.5C9.2 30.8 10.6 34.6 12.6 34.6C14.8 34.6 16.8 30.6 17.2 25.2C17.4 22 16.8 20 15.8 19.4" stroke-width="1.35"/>
<path d="M15.8 20.6C13.8 19.8 13.2 22.6 13.5 25.6" stroke-width="2.7"/>
<path d="M11.5 27.6C11.2 30.4 12 31.8 13.2 31.6" stroke-width="2.3"/>
<path d="M12.4 29.4C14 28.6 15 29.6 14.8 33" stroke-width="1.6"/>
</g>
<path d="M22.5 23.5C23.2 38 18.5 51.5 2 66L1.1 55.6C9.5 53.6 16.6 47 19.4 38.6C20.4 34 20.8 28 20.8 23.5Z" fill="#0a8f9a"/>
<text transform="translate(7,77) scale(0.57,1)" font-size="13.8" font-weight="bold" style="fill:#0a8f9a">Met</text>
<text transform="translate(0,90.8) scale(0.565,1)" font-size="13.8" font-weight="bold" style="fill:#0a8f9a">Éireann</text>
</g>
<text transform="translate(399.1,41.8) scale(1,1.06)" text-anchor="middle" font-size="12.66" font-weight="bold" textLength="399.3" lengthAdjust="spacing" stroke="#000" stroke-width="0.15">Temperature: Daily Mean departure from Long-Term Average (LTA)</text>
<text transform="translate(399.4,53.7)" text-anchor="middle" font-size="10.8" textLength="436.3" lengthAdjust="spacing">Mean based on 09-09hr Max/Min Values, LTA Mean is a 31 day moving average 1991-2020</text>
<text transform="translate(399.6,517.8) scale(1,1.06)" text-anchor="middle" font-size="12.66" font-weight="bold" textLength="483.3" lengthAdjust="spacing" stroke="#000" stroke-width="0.15">Temperature: Daily Maximum, Minimum departure from Long-Term Average (LTA)</text>
<text transform="translate(399.1,529.7)" text-anchor="middle" font-size="10.8" textLength="369.3" lengthAdjust="spacing">LTA Mean Tmax and Tmin (09-09hr) are 31 day moving averages 1991-2020</text>
<text transform="translate(761.3,48.1) scale(1,1.07)" font-size="18.07" font-weight="bold" textLength="203.6" lengthAdjust="spacing" stroke="#000" stroke-width="0.4">MOORE PARK Co. Cork</text>
<text transform="translate(764.3,72) scale(1,1.08)" font-size="12.34" font-weight="bold" textLength="100.2" lengthAdjust="spacing" stroke="#000" stroke-width="0.25">Winter 2025/2026</text>
<text transform="translate(761.3,523.7) scale(1,1.07)" font-size="18.07" font-weight="bold" textLength="203.6" lengthAdjust="spacing" stroke="#000" stroke-width="0.4">MOORE PARK Co. Cork</text>
<text transform="translate(764.3,547.6) scale(1,1.08)" font-size="12.34" font-weight="bold" textLength="100.2" lengthAdjust="spacing" stroke="#000" stroke-width="0.25">Winter 2025/2026</text>
<rect x="763.5" y="110.5" width="143" height="86" fill="#fff" stroke="#000" stroke-width="1"/>
<path d="M770.5 121.4H788.5" stroke="#8b008b" stroke-width="2.2" fill="none"/>
<text transform="translate(796,124.7)" font-size="9.32" textLength="70.2" lengthAdjust="spacing">30yr LTA Tmean</text>
<path d="M770.5 132.4H788.5" stroke="#000" stroke-width="1.2" fill="none"/>
<text transform="translate(796,135.7)" font-size="9.32" textLength="52.8" lengthAdjust="spacing">Daily Tmean</text>
<path d="M771.7 143.3H787.3" stroke="#ff0000" stroke-width="5.0" stroke-linecap="round" fill="none"/>
<text transform="translate(796,146.6)" font-size="9.32" textLength="55.1" lengthAdjust="spacing">Tmean&gt; LTA</text>
<path d="M771.7 153.9H787.3" stroke="#6495ed" stroke-width="5.0" stroke-linecap="round" fill="none"/>
<text transform="translate(796,157.2)" font-size="9.32" textLength="58.0" lengthAdjust="spacing">Tmean &lt; LTA</text>
<path d="M771.7 164.7H787.3" stroke="#ffc1c1" stroke-width="5.0" stroke-linecap="round" fill="none"/>
<text transform="translate(796,168.0)" font-size="9.32" textLength="107.1" lengthAdjust="spacing">25-75th Percentile Tmean</text>
<path d="M770.5 175.7H788.5" stroke="#cd5c5c" stroke-width="1.5" stroke-dasharray="5.5 2.5" fill="none"/>
<text transform="translate(796,179.0)" font-size="9.32" textLength="94.1" lengthAdjust="spacing">90th Percentile Tmean</text>
<path d="M770.5 186.6H788.5" stroke="#6495ed" stroke-width="1.5" stroke-dasharray="5.5 2.5" fill="none"/>
<text transform="translate(796,189.9)" font-size="9.32" textLength="94.1" lengthAdjust="spacing">10th Percentile Tmean</text>
<text transform="translate(764.3,228.8)" font-size="10.5" textLength="180.5" lengthAdjust="spacing">Statistics for this Winter for this Station:</text>
<text transform="translate(764.3,244.6)" font-size="10.5" textLength="181.25" lengthAdjust="spacing">Highest Tmean: 12.5 C on 25/02/2026</text>
<text transform="translate(764.3,260.8)" font-size="10.5" textLength="176.25" lengthAdjust="spacing">Lowest Tmean: -0.9 C on 05/01/2026</text>
<text transform="translate(764.3,412.6)" font-size="10.5" textLength="113.25" lengthAdjust="spacing">LTA Winter Mean: 5.8 C</text>
<text transform="translate(764.3,428.8)" font-size="10.5" textLength="145.0" lengthAdjust="spacing">Winter 2025/2026 Mean: 6.2 C</text>
<rect x="763.5" y="586.5" width="138.5" height="97" fill="#fff" stroke="#000" stroke-width="1"/>
<path d="M770.5 597.5H788.5" stroke="#ff0000" stroke-width="2.2" fill="none"/>
<text transform="translate(793.2,600.8)" font-size="9.32" textLength="58.25" lengthAdjust="spacing">30yr LTA Max</text>
<path d="M770.5 608.3H788.5" stroke="#0000ff" stroke-width="2.2" fill="none"/>
<text transform="translate(793.2,611.6)" font-size="9.32" textLength="56.25" lengthAdjust="spacing">30yr LTA Min</text>
<path d="M770.5 619.4H788.5" stroke="#ff0000" stroke-width="1" fill="none"/>
<text transform="translate(793.2,622.7)" font-size="9.32" textLength="41.5" lengthAdjust="spacing">Daily Max</text>
<path d="M770.5 629.6H788.5" stroke="#0000ff" stroke-width="1" fill="none"/>
<text transform="translate(793.2,632.9)" font-size="9.32" textLength="39.0" lengthAdjust="spacing">Daily Min</text>
<path d="M771.7 640.7H787.3" stroke="#c9bcc1" stroke-width="5.0" stroke-linecap="round" fill="none"/>
<text transform="translate(793.2,644.0)" font-size="9.32" textLength="104.5" lengthAdjust="spacing">25-75th Percentile T max</text>
<path d="M770.5 651.7H788.5" stroke="#cd5c5c" stroke-width="1.5" stroke-dasharray="5.5 2.5" fill="none"/>
<text transform="translate(793.2,655.0)" font-size="9.32" textLength="91.5" lengthAdjust="spacing">90th Percentile T max</text>
<path d="M771.7 662.5H787.3" stroke="#bdc9c8" stroke-width="5.0" stroke-linecap="round" fill="none"/>
<text transform="translate(793.2,665.8)" font-size="9.32" textLength="102.0" lengthAdjust="spacing">25-75th Percentile T min</text>
<path d="M770.5 673.0H788.5" stroke="#6495ed" stroke-width="1.5" stroke-dasharray="5.5 2.5" fill="none"/>
<text transform="translate(793.2,676.3)" font-size="9.32" textLength="89.0" lengthAdjust="spacing">10th Percentile T min</text>
<text transform="translate(764.3,715.6)" font-size="10.5" textLength="180.5" lengthAdjust="spacing">Statistics for this Winter for this Station:</text>
<text transform="translate(764.3,731.7)" font-size="10.5" textLength="174.3" lengthAdjust="spacing">Highest Tmax: 14.8 C on 25/02/2026</text>
<text transform="translate(764.3,747.8)" font-size="10.5" textLength="166.6" lengthAdjust="spacing">Lowest Tmax: 3.4 C on 05/01/2026</text>
<text transform="translate(764.3,763.7)" font-size="10.5" textLength="171.5" lengthAdjust="spacing">Highest Tmin: 10.1 C on 25/02/2026</text>
<text transform="translate(764.3,779.5)" font-size="10.5" textLength="166.6" lengthAdjust="spacing">Lowest Tmin: -5.1 C on 05/01/2026</text>
<text transform="translate(974,950.5) rotate(-90)" font-size="12.29" textLength="199.5" lengthAdjust="spacing" style="white-space:pre">Graph created/updated:  2026-03-02</text>
<text transform="translate(140,994)" font-size="12.26" font-style="italic" textLength="519" lengthAdjust="spacing">Long-Term (30 year) Average is based on interpolated data in case station record is incomplete.</text>
<rect x="0.5" y="0.5" width="999" height="999" fill="none" stroke="#66b8bf" stroke-width="1"/>
</svg></body></html>
